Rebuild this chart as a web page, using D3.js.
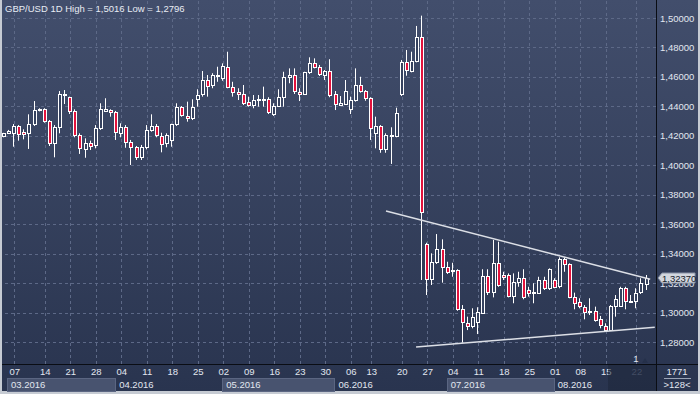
<!DOCTYPE html>
<html>
<head>
<meta charset="utf-8">
<script src="https://cdn.jsdelivr.net/npm/d3@7/dist/d3.min.js"></script>
<style>
  html, body { margin: 0; padding: 0; background: #c6cbd3; }
  svg { display: block; }
  text { font-family: "Liberation Sans", Arial, sans-serif; }
</style>
</head>
<body>
<script>
// ! Data (03.2016 - 08.2016)
const openData = [
  1.4194, 1.4219, 1.4217, 1.4267, 1.4224, 1.4217, 1.4280, 1.4371, 1.4380, 1.4301,
  1.4149, 1.4258, 1.4475, 1.4462, 1.4366, 1.4203, 1.4115, 1.4149, 1.4138, 1.4251,
  1.4371, 1.4375, 1.4362, 1.4217, 1.4262, 1.4156, 1.4122, 1.4051, 1.4122, 1.4240,
  1.4267, 1.4201, 1.4146, 1.4172, 1.4280, 1.4394, 1.4335, 1.4316, 1.4448, 1.4482,
  1.4579, 1.4543, 1.4601, 1.4591, 1.4665, 1.4529, 1.4496, 1.4484, 1.4430, 1.4409,
  1.4438, 1.4443, 1.4448, 1.4348, 1.4402, 1.4462, 1.4597, 1.4611, 1.4497, 1.4482,
  1.4631, 1.4692, 1.4665, 1.4611, 1.4638, 1.4482, 1.4409, 1.4421, 1.4384, 1.4438,
  1.4543, 1.4504, 1.4457, 1.4221, 1.4267, 1.4108, 1.4197, 1.4194, 1.4482, 1.4699,
  1.4642, 1.4703, 1.4869, 1.3465, 1.3226, 1.3341, 1.3429, 1.3307, 1.3282, 1.3289,
  1.3022, 1.2931, 1.2909, 1.2938, 1.2999, 1.3248, 1.3142, 1.3338, 1.3255, 1.3255,
  1.3112, 1.3209, 1.3233, 1.3153, 1.3135, 1.3135, 1.3221, 1.3165, 1.3221, 1.3175,
  1.3361, 1.3330, 1.3108, 1.3074, 1.3040, 1.3006, 1.3012, 1.2954, 1.2909, 1.2881,
  1.3044, 1.3044, 1.3165, 1.3076, 1.3078, 1.3135, 1.3199,
];
const highData = [
  1.4220, 1.4240, 1.4280, 1.4273, 1.4244, 1.4346, 1.4436, 1.4387, 1.4387, 1.4307,
  1.4273, 1.4504, 1.4511, 1.4466, 1.4380, 1.4217, 1.4183, 1.4167, 1.4273, 1.4421,
  1.4455, 1.4380, 1.4369, 1.4285, 1.4273, 1.4172, 1.4131, 1.4138, 1.4273, 1.4346,
  1.4280, 1.4221, 1.4217, 1.4282, 1.4421, 1.4402, 1.4432, 1.4448, 1.4516, 1.4640,
  1.4613, 1.4625, 1.4669, 1.4692, 1.4771, 1.4567, 1.4523, 1.4545, 1.4466, 1.4477,
  1.4477, 1.4534, 1.4462, 1.4421, 1.4516, 1.4635, 1.4658, 1.4658, 1.4523, 1.4635,
  1.4733, 1.4726, 1.4681, 1.4647, 1.4720, 1.4504, 1.4470, 1.4579, 1.4466, 1.4658,
  1.4601, 1.4511, 1.4462, 1.4330, 1.4273, 1.4217, 1.4258, 1.4391, 1.4715, 1.4783,
  1.4771, 1.4946, 1.5016, 1.3474, 1.3402, 1.3533, 1.3497, 1.3345, 1.3338, 1.3294,
  1.3051, 1.2972, 1.3029, 1.3036, 1.3294, 1.3294, 1.3493, 1.3481, 1.3277, 1.3266,
  1.3266, 1.3277, 1.3294, 1.3175, 1.3199, 1.3243, 1.3243, 1.3300, 1.3233, 1.3375,
  1.3375, 1.3334, 1.3135, 1.3097, 1.3051, 1.3097, 1.3040, 1.2977, 1.2927, 1.3051,
  1.3119, 1.3175, 1.3175, 1.3119, 1.3165, 1.3233, 1.3255,
];
const lowData = [
  1.4190, 1.4214, 1.4126, 1.4167, 1.4176, 1.4111, 1.4267, 1.4366, 1.4289, 1.4131,
  1.4054, 1.4217, 1.4416, 1.4348, 1.4190, 1.4077, 1.4051, 1.4104, 1.4115, 1.4240,
  1.4364, 1.4330, 1.4172, 1.4190, 1.4119, 1.4002, 1.4036, 1.4036, 1.4108, 1.4228,
  1.4190, 1.4088, 1.4122, 1.4126, 1.4267, 1.4330, 1.4296, 1.4307, 1.4398, 1.4466,
  1.4466, 1.4523, 1.4567, 1.4574, 1.4523, 1.4466, 1.4443, 1.4409, 1.4398, 1.4387,
  1.4398, 1.4398, 1.4348, 1.4335, 1.4398, 1.4398, 1.4557, 1.4484, 1.4436, 1.4477,
  1.4620, 1.4658, 1.4606, 1.4579, 1.4462, 1.4375, 1.4402, 1.4416, 1.4348, 1.4432,
  1.4493, 1.4438, 1.4172, 1.4115, 1.4085, 1.4085, 1.4009, 1.4190, 1.4470, 1.4608,
  1.4631, 1.4699, 1.3221, 1.3119, 1.3187, 1.3330, 1.3203, 1.3262, 1.3243, 1.3012,
  1.2796, 1.2881, 1.2893, 1.2854, 1.2995, 1.3119, 1.3103, 1.3175, 1.3221, 1.3103,
  1.3063, 1.3175, 1.3090, 1.3108, 1.3063, 1.3126, 1.3153, 1.3153, 1.3165, 1.3165,
  1.3277, 1.3097, 1.3022, 1.3029, 1.2954, 1.2983, 1.2938, 1.2893, 1.2870, 1.2875,
  1.2972, 1.3040, 1.3022, 1.3074, 1.3029, 1.3126, 1.3153,
];
const closeData = [
  1.4217, 1.4231, 1.4267, 1.4210, 1.4212, 1.4280, 1.4373, 1.4380, 1.4296, 1.4149,
  1.4258, 1.4484, 1.4484, 1.4364, 1.4203, 1.4115, 1.4153, 1.4131, 1.4251, 1.4380,
  1.4382, 1.4360, 1.4226, 1.4258, 1.4158, 1.4122, 1.4054, 1.4122, 1.4240, 1.4269,
  1.4206, 1.4149, 1.4203, 1.4280, 1.4394, 1.4337, 1.4319, 1.4394, 1.4477, 1.4579,
  1.4538, 1.4611, 1.4611, 1.4674, 1.4527, 1.4496, 1.4484, 1.4421, 1.4409, 1.4443,
  1.4448, 1.4448, 1.4360, 1.4402, 1.4462, 1.4597, 1.4611, 1.4500, 1.4482, 1.4631,
  1.4692, 1.4665, 1.4620, 1.4637, 1.4472, 1.4414, 1.4421, 1.4506, 1.4443, 1.4543,
  1.4500, 1.4455, 1.4251, 1.4267, 1.4108, 1.4206, 1.4206, 1.4353, 1.4699, 1.4642,
  1.4708, 1.4869, 1.3681, 1.3226, 1.3341, 1.3429, 1.3307, 1.3271, 1.3289, 1.3022,
  1.2931, 1.2909, 1.2972, 1.3006, 1.3248, 1.3142, 1.3338, 1.3192, 1.3239, 1.3112,
  1.3209, 1.3233, 1.3103, 1.3135, 1.3142, 1.3221, 1.3165, 1.3294, 1.3175, 1.3361,
  1.3330, 1.3108, 1.3069, 1.3044, 1.3006, 1.3012, 1.2954, 1.2915, 1.2881, 1.3044,
  1.3090, 1.3165, 1.3078, 1.3080, 1.3135, 1.3199, 1.3237,
];

// * Tick labels (bar index of each Monday label) and months
const weekIdx = [2, 8, 13, 18, 23, 28, 33, 38, 43, 48, 53, 58, 63, 68, 72, 78, 83, 88, 93, 98, 103, 108, 113, 118, 124];
const weekLabels = ['07', '14', '21', '28', '04', '11', '18', '25', '02', '09', '16', '23', '30', '06', '13', '20', '27', '04', '11', '18', '25', '01', '08', '15', '22'];
const monthStart = [0, 22, 43, 65, 87, 108];
const monthLabels = ['03.2016', '04.2016', '05.2016', '06.2016', '07.2016', '08.2016'];
const priceTicks = [1.28, 1.30, 1.32, 1.34, 1.36, 1.38, 1.40, 1.42, 1.44, 1.46, 1.48, 1.50];

// * Trend lines drawn on the chart [bar index, price]
const upperTrend = [[74.9, 1.3690], [126.7, 1.3226]];
const lowerTrend = [[80.8, 1.2766], [127.6, 1.2900]];

const title = 'GBP/USD 1D High = 1,5016 Low = 1,2796';
const lastPrice = 1.3237;
const barCount = openData.length;

// ! Drawing begins here
const width = 700;
const height = 394;
const plotRight = 656;
const axisY = 364;
const panelBottom = 391;

const svg = d3
  .select('body')
  .append('svg')
  .attr('width', width)
  .attr('height', height);

const grad = svg.append('defs')
  .append('linearGradient')
  .attr('id', 'bg')
  .attr('x1', 0).attr('y1', 0)
  .attr('x2', 0).attr('y2', 1);
grad.append('stop').attr('offset', '0%').attr('stop-color', '#424e6c');
grad.append('stop').attr('offset', '100%').attr('stop-color', '#29344f');

svg.append('rect')
  .attr('width', width).attr('height', height)
  .attr('fill', '#c6cbd3');
svg.append('rect')
  .attr('x', 2).attr('y', 0)
  .attr('width', width - 4).attr('height', panelBottom)
  .attr('fill', 'url(#bg)');

// * Scales
const x = d3.scaleLinear()
  .domain([0, barCount - 1])
  .range([4, 4 + (barCount - 1) * 5.1]);
const y = d3.scaleLinear()
  .domain([1.28, 1.50])
  .range([342, 18]);

const locale = d3.formatLocale({
  decimal: ',', thousands: '.', grouping: [3], currency: ['', ''],
});
const fmt = locale.format('.5f');

// * Grid
const hGrid = svg.append('g')
  .attr('transform', `translate(${plotRight},0)`)
  .call(d3.axisLeft(y).tickValues(priceTicks).tickSize(plotRight - 2).tickFormat(''));
const vGrid = svg.append('g')
  .attr('transform', `translate(0,${axisY})`)
  .call(d3.axisBottom(x).tickValues(weekIdx).tickSize(-axisY).tickFormat(''));
[hGrid, vGrid].forEach((g) => {
  g.select('.domain').remove();
  g.selectAll('line')
    .attr('stroke', '#5d6987')
    .attr('stroke-dasharray', '3,3')
    .attr('shape-rendering', 'crispEdges');
});

// * Candles
const bars = d3.range(barCount).map((i) => ({
  i, o: openData[i], h: highData[i], l: lowData[i], c: closeData[i],
}));
const candle = svg.append('g')
  .selectAll('g')
  .data(bars)
  .enter()
  .append('g');
candle.append('line')
  .attr('x1', (d) => Math.round(x(d.i)) - 0.5)
  .attr('x2', (d) => Math.round(x(d.i)) - 0.5)
  .attr('y1', (d) => y(d.h))
  .attr('y2', (d) => y(d.l))
  .attr('stroke', '#ffffff')
  .attr('stroke-width', 1);
candle.append('rect')
  .attr('x', (d) => Math.round(x(d.i)) - 1.5)
  .attr('width', 3)
  .attr('y', (d) => Math.round(y(Math.max(d.o, d.c))) + 0.5)
  .attr('height', (d) => Math.max(1, Math.round(y(Math.min(d.o, d.c)) - y(Math.max(d.o, d.c)))))
  .attr('fill', (d) => (d.c < d.o ? '#e3123c' : '#36425f'))
  .attr('stroke', '#ffffff')
  .attr('stroke-width', 1);

// * Trend lines
const trendLine = d3.line()
  .x((d) => x(d[0]))
  .y((d) => y(d[1]));
[upperTrend, lowerTrend].forEach((t) => {
  svg.append('path')
    .attr('d', trendLine(t))
    .attr('fill', 'none')
    .attr('stroke', '#dcdfe6')
    .attr('stroke-width', 1.5);
});

// * Frame lines
svg.append('line')
  .attr('x1', plotRight + 0.5).attr('x2', plotRight + 0.5)
  .attr('y1', 0).attr('y2', panelBottom)
  .attr('stroke', '#0a0d14');
svg.append('line')
  .attr('x1', 2).attr('x2', width - 2)
  .attr('y1', axisY + 0.5).attr('y2', axisY + 0.5)
  .attr('stroke', '#0a0d14');

// * Price axis
const yAxis = svg.append('g')
  .attr('transform', `translate(${plotRight},0)`)
  .call(d3.axisRight(y).tickValues(priceTicks).tickSize(0).tickPadding(4).tickFormat(fmt));
yAxis.select('.domain').remove();
yAxis.selectAll('text')
  .attr('fill', '#e2e7f0')
  .style('font-size', '9.5px');

// * Month bands
monthStart.forEach((s, k) => {
  const x0 = k === 0 ? 7 : x(s - 0.5) + 1.5;
  const x1 = k === monthStart.length - 1 ? plotRight : x(monthStart[k + 1] - 0.5) + 1.5;
  if (k % 2 === 0) {
    svg.append('rect')
      .attr('x', Math.round(x0) + 0.5).attr('y', 378.5)
      .attr('width', Math.round(x1 - x0)).attr('height', 13)
      .attr('fill', '#48536f')
      .attr('stroke', '#5b6682');
  }
  svg.append('text')
    .attr('x', x0 + 4).attr('y', 388)
    .attr('fill', '#e2e7f0')
    .style('font-size', '9.5px')
    .text(monthLabels[k]);
});

// * Day axis
const xAxis = svg.append('g')
  .attr('transform', `translate(0,${axisY})`)
  .call(d3.axisBottom(x).tickValues(weekIdx).tickSize(0).tickPadding(4)
    .tickFormat((d, i) => weekLabels[i]));
xAxis.select('.domain').remove();
xAxis.selectAll('text')
  .attr('fill', (d, i) => (i === weekIdx.length - 1 ? '#6f7a94' : '#e2e7f0'))
  .style('font-size', '9.5px');

// shaded future area under the last label
svg.append('rect')
  .attr('x', 608).attr('y', axisY + 1)
  .attr('width', plotRight - 608).attr('height', panelBottom - axisY - 1)
  .attr('fill', '#1e263b')
  .attr('opacity', 0.55);

// * Last price marker
const ly = Math.round(y(lastPrice));
svg.append('path')
  .attr('d', `M${plotRight + 2},${ly} L${plotRight + 6},${ly - 5} L${width - 5},${ly - 5} L${width - 5},${ly + 5} L${plotRight + 6},${ly + 5} Z`)
  .attr('fill', '#d3d7de')
  .attr('stroke', '#8a93a6');
svg.append('text')
  .attr('x', plotRight + 6).attr('y', ly + 3.5)
  .attr('fill', '#161c2b')
  .style('font-size', '9.5px')
  .text(fmt(lastPrice));

// * Bottom right box
svg.append('text')
  .attr('x', 677).attr('y', 375)
  .attr('text-anchor', 'middle')
  .attr('fill', '#e2e7f0')
  .style('font-size', '9.5px')
  .text('1771');
svg.append('line')
  .attr('x1', 664).attr('x2', 691)
  .attr('y1', 378.5).attr('y2', 378.5)
  .attr('stroke', '#9aa3b5');
svg.append('text')
  .attr('x', 677).attr('y', 388)
  .attr('text-anchor', 'middle')
  .attr('fill', '#e2e7f0')
  .style('font-size', '9.5px')
  .text('>128<');

svg.append('text')
  .attr('x', 636).attr('y', 362)
  .attr('text-anchor', 'middle')
  .attr('fill', '#e2e7f0')
  .style('font-size', '9.5px')
  .text('1');
svg.append('path')
  .attr('d', 'M642,363 L645,358 L648,363 Z')
  .attr('fill', '#25304a');

// * Title
svg.append('text')
  .attr('x', 5).attr('y', 11.5)
  .attr('fill', '#e8ecf4')
  .style('font-size', '9.5px')
  .text(title);
</script>
</body>
</html>
